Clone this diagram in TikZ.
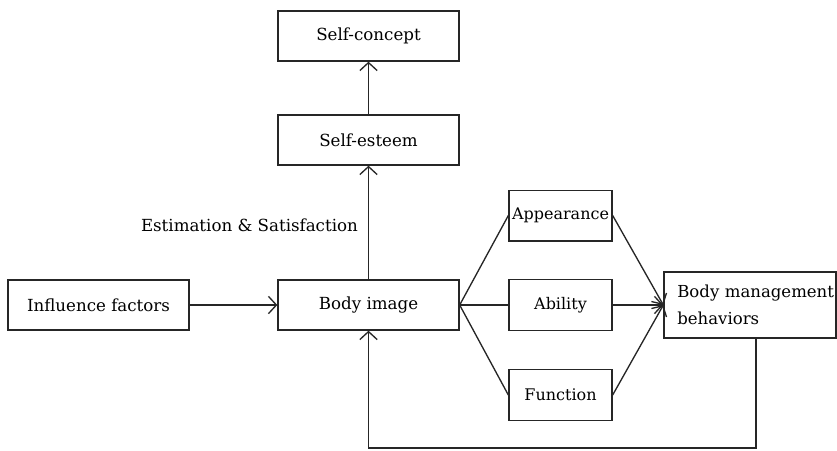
\documentclass[tikz,border=0pt]{standalone}
\usepackage{fontspec}
\setmainfont{DejaVu Serif}
\usetikzlibrary{arrows.meta}

\begin{document}
\begin{tikzpicture}[x=0.75pt,y=-0.75pt,>={Straight Barb[length=6pt,width=13pt]},
    line width=1pt, every edge/.append style={draw=black!85},
    main box/.style={rectangle,draw=black!85,minimum width=135.75pt,minimum height=37.5pt,
      font=\fontsize{12.5}{15}\selectfont},
    side box/.style={rectangle,draw=black!85,minimum width=77.25pt,minimum height=38pt,
      inner sep=0.5pt,font=\fontsize{12}{14}\selectfont}]

\useasboundingbox (0,0) rectangle (837,450);

\node[main box] (concept) at (368.5,36) {Self-concept};
\node[main box] (esteem) at (368.5,140) {Self-esteem};
\node[main box] (influence) at (98.5,305) {Influence factors};
\node[main box] (body) at (368.5,305) {Body image};
\node[side box] (appear) at (560.5,215.5) {Appearance};
\node[side box] (ability) at (560.5,305) {Ability};
\node[side box] (function) at (560.5,395) {Function};
\node[main box, minimum width=129pt, minimum height=49.5pt, inner xsep=10pt,
  text width=109pt, align=left, font=\fontsize{12.4}{20}\selectfont] (manage) at (750,305)
  {\mbox{Body management}\\behaviors};

\node[anchor=east, font=\fontsize{12.5}{15}\selectfont] (estim) at (363,225) {Estimation \& Satisfaction};

\coordinate (fbright) at (756,448);
\coordinate (fbleft) at (368.5,448);

\path[->]
(influence) edge (body)
(body) edge (esteem)
(esteem) edge (concept);

\path
(body.east) edge (appear.west)
            edge (ability.west)
            edge (function.west);

\path[->]
(appear.east) edge (manage.west)
(ability.east) edge (manage.west)
(function.east) edge (manage.west);

\draw[black!85, ->] (manage.south -| fbright) -- (fbright) -- (fbleft) -- (body.south);
\end{tikzpicture}
\end{document}
